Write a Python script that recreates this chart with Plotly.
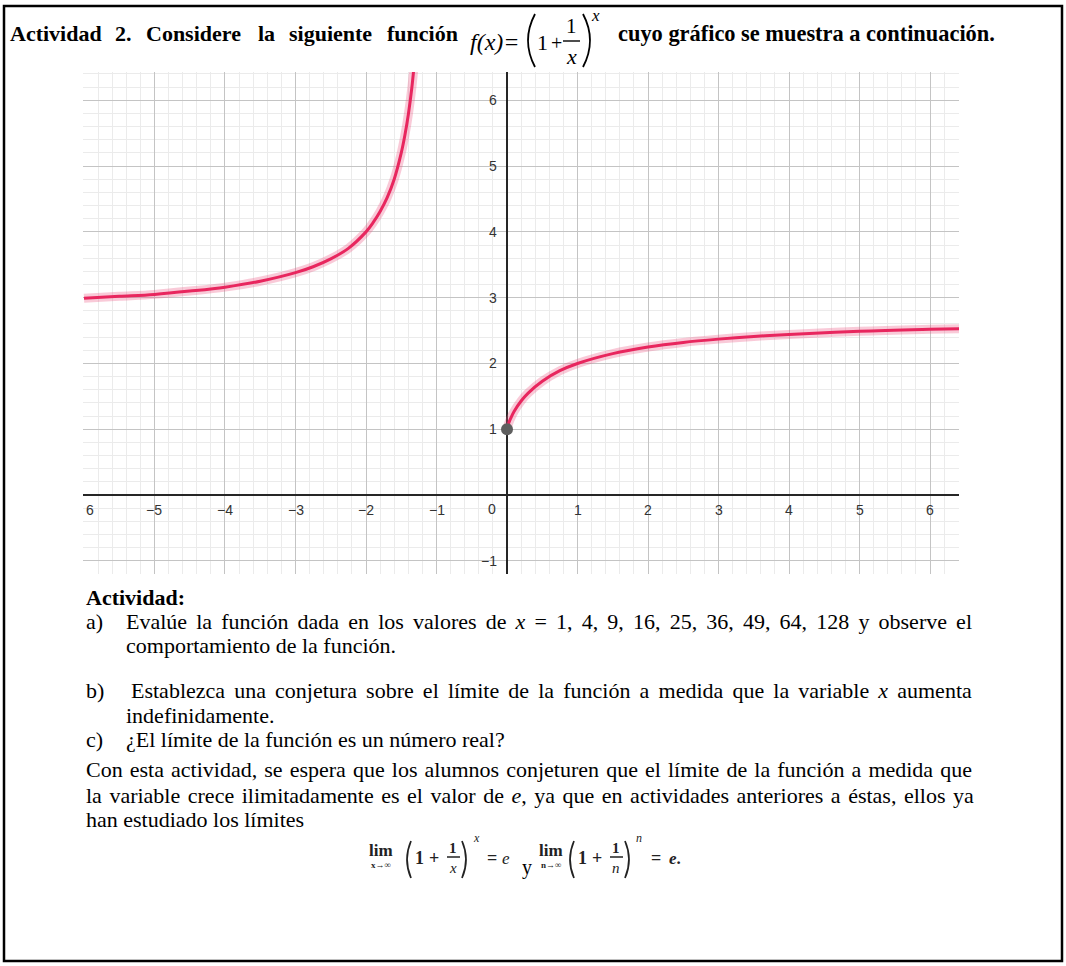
import json
import plotly.graph_objects as go

W, H = 1066, 966

# --- curve ----------------------------------------------------------------
left_x = [-6.0, -5.5, -5.0, -4.5, -4.0, -3.5, -3.0, -2.75, -2.5, -2.25,
          -2.0, -1.9, -1.8, -1.7, -1.6, -1.5, -1.45, -1.4, -1.35, -1.3]
left_y = [2.99, 3.02, 3.05, 3.10, 3.16, 3.25, 3.38, 3.47, 3.59, 3.75,
          4.00, 4.14, 4.31, 4.52, 4.80, 5.20, 5.46, 5.78, 6.19, 6.73]
right_x = [0.0, 0.02, 0.05, 0.1, 0.2, 0.3, 0.5, 0.75, 1.0, 1.5,
           2.0, 2.5, 3.0, 3.5, 4.0, 5.0, 6.0, 6.45]
right_y = [1.00, 1.08, 1.16, 1.27, 1.43, 1.55, 1.73, 1.89, 2.00, 2.15,
           2.25, 2.32, 2.37, 2.41, 2.44, 2.49, 2.52, 2.53]
dot_x = [0]
dot_y = [1]

x_ticks = [-6, -5, -4, -3, -2, -1, 1, 2, 3, 4, 5, 6]
y_ticks = [-1, 1, 2, 3, 4, 5, 6]

CURVE = '#e8265e'
HALO = 'rgba(236, 90, 135, 0.32)'
SERIF = 'Liberation Serif'
SANS = 'Liberation Sans'


def px(x):
    return x / W


def py(y):
    return 1 - y / H


def label(v):
    return f"\u2212{abs(v)}" if v < 0 else str(v)


fig = go.Figure()

# glow + line, per branch
for xs, ys in [(left_x, left_y), (right_x, right_y)]:
    fig.add_trace(go.Scatter(x=xs, y=ys, mode='lines', line_shape='spline',
                             line=dict(color=HALO, width=9), hoverinfo='skip'))
    fig.add_trace(go.Scatter(x=xs, y=ys, mode='lines', line_shape='spline',
                             line=dict(color=CURVE, width=3)))

fig.add_trace(go.Scatter(x=dot_x, y=dot_y, mode='markers',
                         marker=dict(color='#5f5f5f', size=12), cliponaxis=False))

annotations = []
TICKFONT = dict(family=SANS, size=14, color='#333')

# axis numbers sit on the axes (GeoGebra style)
for v in x_ticks:
    if v == x_ticks[0]:
        # leftmost label is cut by the picture edge: only the digit shows
        annotations.append(dict(x=v, y=0, xref='x', yref='y', text=str(abs(v)),
                                xanchor='left', yanchor='middle', yshift=-15,
                                showarrow=False, font=TICKFONT))
        continue
    annotations.append(dict(x=v, y=0, xref='x', yref='y', text=label(v),
                            xanchor='center', yanchor='middle', yshift=-15,
                            showarrow=False, font=TICKFONT))
annotations.append(dict(x=0, y=0, xref='x', yref='y', text='0', xanchor='right',
                        yanchor='middle', xshift=-9, yshift=-14, showarrow=False,
                        font=TICKFONT))
for v in y_ticks:
    annotations.append(dict(x=0, y=v, xref='x', yref='y', text=label(v),
                            xanchor='right', yanchor='middle', xshift=-8,
                            showarrow=False, font=TICKFONT))


def txt(x, y, s, size=22, bold=False, italic=False, anchor='left', color='black'):
    annotations.append(dict(
        x=px(x), y=py(y), xref='paper', yref='paper', text=s, showarrow=False,
        xanchor=anchor, yanchor='middle', align='left' if anchor == 'left' else 'center',
        font=dict(family=SERIF, size=size, color=color,
                  weight='bold' if bold else 'normal',
                  style='italic' if italic else 'normal')))


shapes = []


def hline(x0, x1, y, w=1.2, color='black'):
    shapes.append(dict(type='line', xref='paper', yref='paper',
                       x0=px(x0), x1=px(x1), y0=py(y), y1=py(y),
                       line=dict(color=color, width=w)))


def paren(x_end, x_ctrl, y0, y1, w=1.3, color='black'):
    ym = (y0 + y1) / 2
    path = f"M {px(x_end)},{py(y0)} Q {px(x_ctrl)},{py(ym)} {px(x_end)},{py(y1)}"
    shapes.append(dict(type='path', xref='paper', yref='paper', path=path,
                       line=dict(color=color, width=w)))


# --- heading -------------------------------------------------------------
for x0, word in [(8, 'Actividad'), (113, '2.'), (144, 'Considere'), (256, 'la'),
                 (287, 'siguiente'), (385, 'función')]:
    txt(x0, 33, word, bold=True)
txt(468, 42, 'f(x)=', size=24, italic=True)
paren(535, 521, 14, 67, w=1.8)
txt(535, 43, '1', size=22)
txt(556, 43, '+', size=20, anchor='center')
txt(571, 26, '1', size=21, anchor='center')
hline(563, 580, 41, w=1.4)
txt(571, 57, 'x', size=22, italic=True, anchor='center')
paren(583, 597, 14, 67, w=1.8)
txt(595, 16, 'x', size=17, italic=True, anchor='center')
txt(616, 33, 'cuyo gráfico se muestra a continuación.', size=22.4, bold=True)

# --- activity text -------------------------------------------------------
line_a = 'Evalúe la función dada en los valores de <i>x</i> = 1, 4, 9, 16, 25, 36, 49, 64, 128 y observe el'
line_b = 'Establezca una conjetura sobre el límite de la función a medida que la variable <i>x</i> aumenta'
line_con = 'Con esta actividad, se espera que los alumnos conjeturen que el límite de la función a medida que'
line_var = 'la variable crece ilimitadamente es el valor de <i>e</i>, ya que en actividades anteriores a éstas, ellos ya'

txt(84, 597, 'Actividad:', bold=True)
txt(84, 621, 'a)')
txt(124, 621, line_a)
txt(124, 645, 'comportamiento de la función.')
txt(84, 690, 'b)')
txt(129, 690, line_b)
txt(124, 715, 'indefinidamente.')
txt(84, 739, 'c)')
txt(124, 739, '¿El límite de la función es un número real?')
txt(84, 769, line_con)
txt(84, 795, line_var)
txt(84, 819, 'han estudiado los límites')

# justified lines: first words -> right edge in the page
justify = {'Evalúe': 972, 'Establezca': 972, 'Con esta': 972, 'la variable': 974}

# --- the two limits ------------------------------------------------------
F = '#222'
for x0, var in [(381, 'x'), (551, 'n')]:
    txt(x0, 850, 'lim', size=17, bold=True, anchor='center', color=F)
    txt(x0, 865, f'{var}\u2192\u221e', size=9, bold=True, anchor='center', color=F)
for off, var in [(0, 'x'), (163, 'n')]:
    paren(411 + off, 403 + off, 841, 878, w=1.7, color=F)
    txt(419 + off, 858, '1', size=18, bold=True, anchor='center', color=F)
    txt(434 + off, 858, '+', size=18, bold=True, anchor='center', color=F)
    txt(453 + off, 848, '1', size=15, bold=True, anchor='center', color=F)
    hline(447 + off, 460 + off, 857, w=1.5, color=F)
    txt(453 + off, 868, var, size=15, italic=True, anchor='center', color=F)
    paren(462 + off, 470 + off, 841, 878, w=1.7, color=F)
    txt(476 + off, 838, var, size=12, italic=True, anchor='center', color=F)
txt(492, 858, '=', size=18, bold=True, anchor='center', color=F)
txt(506, 858, 'e', size=17, italic=True, anchor='center', color=F)
txt(527, 867, 'y', size=20, anchor='center')
txt(656, 858, '=', size=18, bold=True, anchor='center', color=F)
txt(667, 858, '<i>e</i>.', size=17, bold=True, color=F)

# page frame
shapes.append(dict(type='rect', xref='paper', yref='paper',
                   x0=px(4), x1=px(1062), y0=py(6), y1=py(961),
                   line=dict(color='black', width=2.5), layer='above'))

grid = dict(showgrid=True, gridcolor='#c4c4c4', gridwidth=1, dtick=1, tick0=0,
            showticklabels=False, ticks='', zeroline=True, zerolinecolor='#262626',
            zerolinewidth=2, showline=False, fixedrange=True,
            minor=dict(dtick=0.2, tick0=0, showgrid=True, gridcolor='#ebebeb', gridwidth=1))

fig.update_layout(
    width=W, height=H, autosize=False,
    margin=dict(l=0, r=0, t=0, b=0),
    paper_bgcolor='white', plot_bgcolor='white',
    showlegend=False,
    xaxis=dict(range=[-6.014, 6.411], domain=[px(83), px(959)], **grid),
    yaxis=dict(range=[-1.20, 6.43], domain=[py(574), py(72)], **grid),
    annotations=annotations,
    shapes=shapes,
)

# stretch word gaps of the justified lines, like the word-processor page
post = """
document.body.style.margin = '0';
var JUST = %s;
function justify() {
  document.querySelectorAll('text.annotation-text').forEach(function (t) {
    var s = t.textContent;
    Object.keys(JUST).forEach(function (k) {
      if (s.indexOf(k) !== 0) return;
      t.style.wordSpacing = '0px';
      var r = t.getBoundingClientRect();
      var gaps = s.split(' ').length - 1;
      t.style.wordSpacing = ((JUST[k] - r.right) / gaps) + 'px';
    });
  });
}
justify();
setTimeout(justify, 0);
""" % json.dumps(justify)

fig.write_html("out.html", config={'displayModeBar': False}, post_script=post)
